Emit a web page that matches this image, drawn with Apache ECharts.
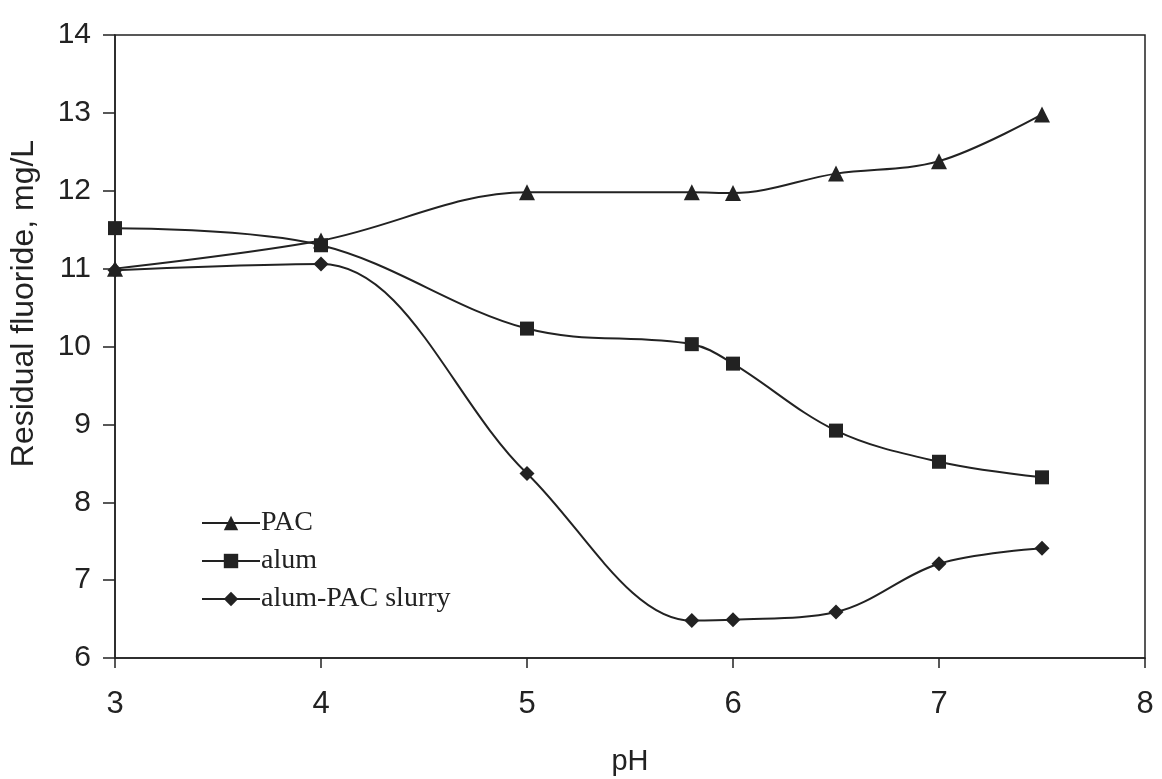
<!DOCTYPE html>
<html>
<head>
<meta charset="utf-8">
<script src="https://cdn.jsdelivr.net/npm/echarts@6/dist/echarts.min.js"></script>
<style>
  html, body { margin: 0; padding: 0; background: #fff; }
  #main { width: 1162px; height: 779px; }
</style>
</head>
<body>
<div id="main"></div>
<script>
// pH values where samples were taken
var phValues = [3, 4, 5, 5.8, 6, 6.5, 7, 7.5];

// residual fluoride, mg/L
var pacValues = [11.0, 11.36, 11.98, 11.98, 11.97, 12.22, 12.38, 12.98];
var alumValues = [11.52, 11.3, 10.23, 10.03, 9.78, 8.92, 8.52, 8.32];
var slurryValues = [10.98, 11.06, 8.37, 6.48, 6.49, 6.59, 7.21, 7.41];

var seriesNames = ['PAC', 'alum', 'alum-PAC slurry'];

function pairs(xs, ys) {
    var out = [];
    for (var i = 0; i < xs.length; i++) {
        out.push([xs[i], ys[i]]);
    }
    return out;
}

var ink = '#222';

function makeSeries(name, values, symbol, size) {
    return {
        name: name,
        type: 'line',
        data: pairs(phValues, values),
        smooth: 0.35,
        symbol: symbol,
        symbolSize: size,
        showAllSymbol: true,
        lineStyle: { color: ink, width: 2 },
        itemStyle: { color: ink, borderWidth: 0 },
        emphasis: { disabled: true }
    };
}

var myChart = echarts.init(document.getElementById('main'));

var option = {
    animation: false,
    backgroundColor: '#fff',
    grid: {
        left: 115,
        right: 17,
        top: 35,
        bottom: 121,
        outerBoundsMode: 'none',
        containLabel: false,
        show: true,
        borderColor: ink,
        borderWidth: 1.5
    },
    legend: {
        orient: 'vertical',
        left: 196,
        top: 504,
        itemWidth: 58,
        itemHeight: 18,
        itemGap: 10,
        data: seriesNames,
        textStyle: {
            fontFamily: 'Liberation Serif',
            fontSize: 28,
            color: ink,
            padding: [0, 0, 0, -4]
        }
    },
    xAxis: {
        type: 'value',
        min: 3,
        max: 8,
        interval: 1,
        name: 'pH',
        nameLocation: 'middle',
        nameGap: 89,
        nameTextStyle: { fontFamily: 'Liberation Sans', fontSize: 29, color: ink },
        axisLine: { lineStyle: { color: ink, width: 1.5 } },
        axisTick: { show: true, length: 10, lineStyle: { color: ink, width: 1.5 } },
        axisLabel: { fontFamily: 'Liberation Sans', fontSize: 31, color: ink, margin: 31 },
        splitLine: { show: false }
    },
    yAxis: {
        type: 'value',
        min: 6,
        max: 14,
        interval: 1,
        name: 'Residual fluoride, mg/L',
        nameLocation: 'middle',
        nameGap: 75,
        nameTextStyle: {
            fontFamily: 'Liberation Sans',
            fontSize: 32,
            color: ink,
            padding: [0, 0, 0, 86]
        },
        axisLine: { show: true, lineStyle: { color: ink, width: 1.5 } },
        axisTick: { show: true, length: 12, lineStyle: { color: ink, width: 1.5 } },
        axisLabel: { fontFamily: 'Liberation Sans', fontSize: 30, color: ink, margin: 24 },
        splitLine: { show: false }
    },
    series: [
        makeSeries(seriesNames[0], pacValues, 'triangle', 16),
        makeSeries(seriesNames[1], alumValues, 'rect', 14),
        makeSeries(seriesNames[2], slurryValues, 'diamond', 15)
    ]
};

myChart.setOption(option);
</script>
</body>
</html>
